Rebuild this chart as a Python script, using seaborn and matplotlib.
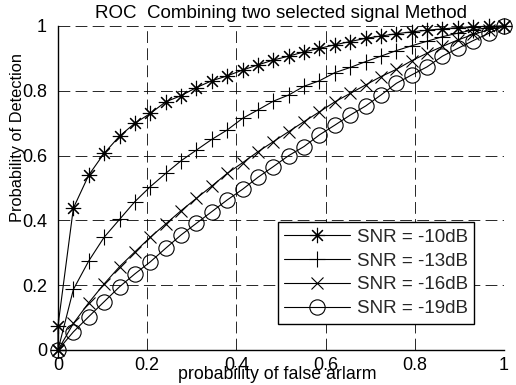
import numpy as np
import pandas as pd
import matplotlib
matplotlib.use("Agg")
import matplotlib.pyplot as plt
import seaborn as sns

# ---- data ----
pf = [0.0, 0.0345, 0.069, 0.1034, 0.1379, 0.1724, 0.2069, 0.2414, 0.2759, 0.3103,
      0.3448, 0.3793, 0.4138, 0.4483, 0.4828, 0.5172, 0.5517, 0.5862, 0.6207, 0.6552,
      0.6897, 0.7241, 0.7586, 0.7931, 0.8276, 0.8621, 0.8966, 0.9310, 0.9655, 1.0]

pd_10 = [0.075, 0.438, 0.54, 0.607, 0.66, 0.70, 0.73, 0.766, 0.785, 0.81,
         0.831, 0.846, 0.864, 0.88, 0.895, 0.907, 0.92, 0.931, 0.942, 0.952,
         0.962, 0.969, 0.976, 0.982, 0.987, 0.991, 0.995, 0.998, 0.999, 1.0]
pd_13 = [0.0, 0.187, 0.275, 0.348, 0.403, 0.458, 0.504, 0.545, 0.584, 0.617,
         0.65, 0.679, 0.715, 0.741, 0.768, 0.787, 0.814, 0.831, 0.856, 0.872,
         0.89, 0.907, 0.924, 0.939, 0.953, 0.967, 0.978, 0.988, 0.995, 1.0]
pd_16 = [0.0, 0.082, 0.146, 0.204, 0.257, 0.303, 0.348, 0.389, 0.43, 0.468,
         0.506, 0.545, 0.578, 0.612, 0.643, 0.674, 0.705, 0.735, 0.766, 0.792,
         0.818, 0.844, 0.866, 0.893, 0.916, 0.937, 0.957, 0.974, 0.988, 1.0]
pd_19 = [0.0, 0.056, 0.103, 0.149, 0.195, 0.235, 0.272, 0.314, 0.355, 0.391,
         0.427, 0.463, 0.496, 0.533, 0.566, 0.600, 0.628, 0.664, 0.694, 0.725,
         0.753, 0.787, 0.823, 0.849, 0.874, 0.907, 0.931, 0.955, 0.977, 1.0]

labels = ["SNR = -10dB", "SNR = -13dB", "SNR = -16dB", "SNR = -19dB"]
ticks = [0, 0.2, 0.4, 0.6, 0.8, 1]
tick_labels = ["0", "0.2", "0.4", "0.6", "0.8", "1"]

# ---- style ----
sns.set_style("white")
plt.rcParams["font.family"] = ["Liberation Sans", "DejaVu Sans"]
plt.rcParams["lines.scale_dashes"] = False

fig = plt.figure(figsize=(5.16, 3.85), dpi=100)
ax = fig.add_axes([58 / 516, 1 - 350 / 385, 446 / 516, 324 / 385])

series = [
    ([0.0] + pf, [0.0] + pd_10, (8, 2, 0), 11, labels[0]),
    (pf, pd_13, "+", 12, labels[1]),
    (pf, pd_16, "x", 8, labels[2]),
    (pf, pd_19, "o", 11, labels[3]),
]
for xs, ys, mk, ms, lab in series:
    df = pd.DataFrame({"pf": xs, "pd": ys})
    sns.lineplot(data=df, x="pf", y="pd", ax=ax, estimator=None, sort=False,
                 color="black", linewidth=0.8, marker=mk, markersize=ms,
                 markerfacecolor="none", markeredgecolor="black",
                 markeredgewidth=0.8, label=lab, zorder=3, clip_on=False)

ax.set_xlim(0, 1)
ax.set_ylim(0, 1)
ax.set_xticks(ticks)
ax.set_xticklabels(tick_labels)
ax.set_yticks(ticks)
ax.set_yticklabels(tick_labels)
ax.tick_params(axis="both", direction="in", length=4, width=0.8, color="black",
               labelsize=13, labelcolor="black")
ax.tick_params(axis="x", pad=5)
ax.tick_params(axis="y", pad=8)

ax.grid(True, color="black", linestyle=(0, (8.5, 3.8)), linewidth=0.7, alpha=0.85)
for side in ["top", "right"]:
    ax.spines[side].set_visible(False)
for side in ["left", "bottom"]:
    ax.spines[side].set_color("black")
    ax.spines[side].set_linewidth(1.0)

ax.set_title("ROC  Combining two selected signal Method", fontsize=13.5, pad=6,
             color="black")
ax.set_xlabel("probability of false arlarm", fontsize=12.8, color="black")
ax.set_ylabel("Probability of Detection", fontsize=11.8, color="black")
ax.xaxis.set_label_coords(0.491, -0.05)
ax.yaxis.set_label_coords(-0.075, 0.657)

leg = ax.legend(loc="upper left", bbox_to_anchor=(0.493, 0.395), borderaxespad=0,
                fontsize=13.5, frameon=True, fancybox=False, framealpha=1,
                edgecolor="black", handlelength=3.5, handletextpad=0.35,
                labelspacing=0.36, borderpad=0.35)
leg.get_frame().set_linewidth(1.0)

fig.savefig("out.png", dpi=100)
